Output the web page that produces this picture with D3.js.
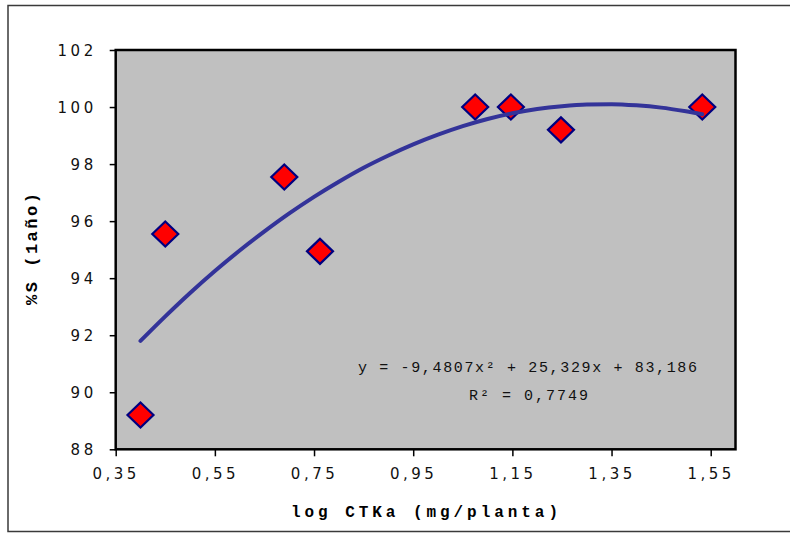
<!DOCTYPE html>
<html>
<head>
<meta charset="utf-8">
<script src="https://cdn.jsdelivr.net/npm/d3@7"></script>
<style>
  html, body { margin: 0; padding: 0; background: #fff; }
  svg { display: block; }
</style>
</head>
<body>
<svg id="chart" width="790" height="534"></svg>
<script>
// ---- data ----
const pointX = [0.40, 0.45, 0.69, 0.762, 1.075, 1.147, 1.248, 1.533];
const pointY = [89.20, 95.55, 97.55, 94.94, 100.00, 100.00, 99.20, 100.00];

const trendX = [0.40, 0.45, 0.50, 0.55, 0.60, 0.65, 0.70, 0.75, 0.80, 0.85, 0.90, 0.95,
                1.00, 1.05, 1.10, 1.15, 1.20, 1.25, 1.30, 1.35, 1.40, 1.45, 1.50, 1.533];
const trendY = [91.80, 92.66, 93.48, 94.25, 94.97, 95.64, 96.27, 96.85, 97.38, 97.87, 98.30, 98.69,
                99.03, 99.33, 99.58, 99.78, 99.93, 100.03, 100.09, 100.10, 100.06, 99.98, 99.85, 99.75];

const xTicks = [0.35, 0.55, 0.75, 0.95, 1.15, 1.35, 1.55];
const xTickLabels = ["0,35", "0,55", "0,75", "0,95", "1,15", "1,35", "1,55"];
const yTicks = [88, 90, 92, 94, 96, 98, 100, 102];

const xTitle = "log CTKa (mg/planta)";
const yTitle = "%S (1año)";
const eqText = "y = -9,4807x² + 25,329x + 83,186";
const r2Text = "R² = 0,7749";

// ---- layout ----
const svg = d3.select("#chart");
const plot = { left: 115.7, right: 735.5, top: 50, bottom: 449.3 };

const x = d3.scaleLinear().domain([0.35, 1.6]).range([plot.left, plot.right]);
const y = d3.scaleLinear().domain([88, 102]).range([plot.bottom, plot.top]);

// outer chart border
svg.append("rect")
  .attr("x", 8).attr("y", 5.5)
  .attr("width", 800).attr("height", 526)
  .attr("fill", "none").attr("stroke", "#3a3a3a").attr("stroke-width", 1.5);

// plot area
svg.append("rect")
  .attr("x", plot.left).attr("y", plot.top)
  .attr("width", plot.right - plot.left).attr("height", plot.bottom - plot.top)
  .attr("fill", "#c0c0c0");

// axes
const yAxis = d3.axisLeft(y).tickValues(yTicks).tickSize(6).tickPadding(13)
  .tickFormat(d3.format("d"));
const gy = svg.append("g").attr("transform", `translate(${plot.left},0)`).call(yAxis);
gy.select(".domain").remove();
gy.selectAll(".tick line").attr("stroke", "#000").attr("stroke-width", 1.5);
gy.selectAll(".tick text")
  .attr("font-family", "DejaVu Sans, sans-serif").attr("font-size", 15)
  .attr("letter-spacing", "3.5px").attr("fill", "#111")
  .attr("dy", "0.36em");

const xAxis = d3.axisBottom(x).tickValues(xTicks).tickSize(7).tickPadding(12)
  .tickFormat((d, i) => xTickLabels[i]);
const gx = svg.append("g").attr("transform", `translate(0,${plot.bottom})`).call(xAxis);
gx.select(".domain").remove();
gx.selectAll(".tick line").attr("stroke", "#000").attr("stroke-width", 1.5);
gx.selectAll(".tick text")
  .attr("font-family", "DejaVu Sans, sans-serif").attr("font-size", 15)
  .attr("letter-spacing", "3.5px").attr("fill", "#111");

// plot border
svg.append("rect")
  .attr("x", plot.left).attr("y", plot.top)
  .attr("width", plot.right - plot.left).attr("height", plot.bottom - plot.top)
  .attr("fill", "none").attr("stroke", "#000").attr("stroke-width", 2.5);

// markers
const pts = pointX.map((v, i) => ({ x: v, y: pointY[i] }));
const diamond = d => {
  const cx = x(d.x), cy = y(d.y), hw = 13, hh = 12.5;
  return `M${cx},${cy - hh}L${cx + hw},${cy}L${cx},${cy + hh}L${cx - hw},${cy}Z`;
};
svg.append("g").selectAll("path").data(pts).join("path")
  .attr("d", diamond)
  .attr("fill", "#ff0000").attr("stroke", "#000080").attr("stroke-width", 2.2)
  .attr("stroke-linejoin", "miter");

// trendline
const trend = trendX.map((v, i) => ({ x: v, y: trendY[i] }));
svg.append("path").datum(trend)
  .attr("d", d3.line().x(d => x(d.x)).y(d => y(d.y)).curve(d3.curveMonotoneX))
  .attr("fill", "none").attr("stroke", "#333399").attr("stroke-width", 4)
  .attr("stroke-linecap", "round");

// equation
svg.append("text")
  .attr("x", 358).attr("y", 372)
  .attr("font-family", "Liberation Mono, Courier New, monospace").attr("font-size", 15)
  .attr("textLength", 339).attr("lengthAdjust", "spacing")
  .attr("fill", "#111").text(eqText);
svg.append("text")
  .attr("x", 469).attr("y", 400)
  .attr("font-family", "Liberation Mono, Courier New, monospace").attr("font-size", 15)
  .attr("textLength", 119).attr("lengthAdjust", "spacing")
  .attr("fill", "#111").text(r2Text);

// axis titles
svg.append("text")
  .attr("x", 291).attr("y", 517)
  .attr("font-family", "Liberation Mono, Courier New, monospace").attr("font-size", 16)
  .attr("font-weight", "bold")
  .attr("textLength", 267).attr("lengthAdjust", "spacing")
  .attr("fill", "#000").text(xTitle);

svg.append("text")
  .attr("transform", "translate(37,305) rotate(-90)")
  .attr("x", 0).attr("y", 0)
  .attr("font-family", "Liberation Mono, Courier New, monospace").attr("font-size", 17)
  .attr("font-weight", "bold")
  .attr("textLength", 112).attr("lengthAdjust", "spacing")
  .attr("fill", "#000").text(yTitle);
</script>
</body>
</html>
